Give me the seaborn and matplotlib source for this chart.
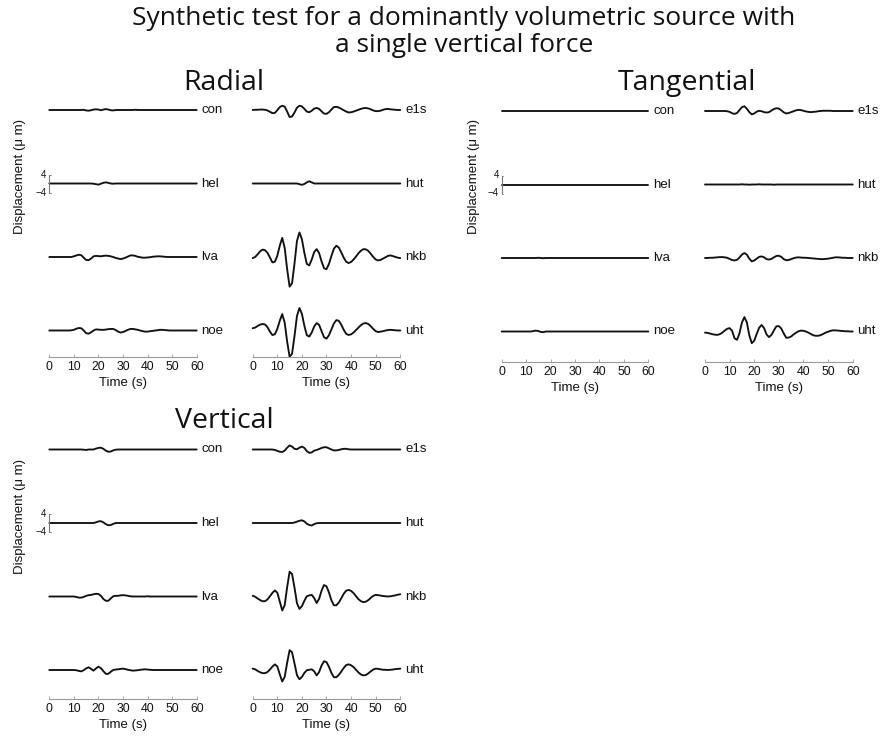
import matplotlib
matplotlib.use("Agg")
import matplotlib.pyplot as plt
import numpy as np
import pandas as pd
import seaborn as sns

# ---------------- data (displacement in micrometres, 1 s sampling) ----------------
time_s = list(range(0, 61))
stations_left = ["con", "hel", "lva", "noe"]
stations_right = ["e1s", "hut", "nkb", "uht"]
xticks = [0, 10, 20, 30, 40, 50, 60]
scale_ticks = [4, -4]

# Radial
rad_con = [0, 0, 0, 0, 0, 0, 0, 0, 0, 0, 0,
           0, 0, 0, 0.1, -0.2, -0.3, -0.1, 0.2, 0.3, 0.2,
           -0.1, 0.2, 0.4, 0.2, -0.1, -0.2, 0, 0, 0, 0,
           0, 0, 0, 0, 0.1, 0, 0, 0, 0, 0,
           0, 0, 0, 0, 0, 0, 0, 0, 0, 0,
           0, 0, 0, 0, 0, 0, 0, 0, 0, 0]
rad_hel = [0, 0, 0, 0, 0, 0, 0, 0, 0, 0, 0,
           0, 0, 0, 0, 0, 0, 0, -0.1, -0.3, -0.5,
           -0.1, 0.3, 0.5, 0.3, 0, -0.1, 0, 0, 0, 0,
           0, 0, 0, 0, 0, 0, 0, 0, 0, 0,
           0, 0, 0, 0, 0, 0, 0, 0, 0, 0,
           0, 0, 0, 0, 0, 0, 0, 0, 0, 0]
rad_lva = [0, 0, 0, 0, 0, 0, 0, 0, 0, 0, 0.3,
           0.7, 1.0, 0.8, -0.3, -1.3, -1.4, -0.7, 0.3, 0.5, 0.4,
           0.3, 0.5, 0.6, 0.5, 0.3, 0, -0.4, -0.7, -0.9, -0.7,
           -0.3, 0.2, 0.7, 0.7, 0.5, 0.1, -0.1, -0.3, -0.3, -0.2,
           -0.1, 0.1, 0.2, 0.3, 0.3, 0.2, 0.1, 0, 0, 0,
           0, 0, 0, 0, 0, 0, 0, 0, 0, 0]
rad_noe = [0, 0, 0, 0, 0, 0, 0, 0, 0, 0.1, 0.3,
           0.8, 1.1, 1.0, 0, -1.2, -1.4, -0.8, 0, 0.5, 0.4,
           0.3, 0.3, 0.4, 0.6, 0.7, 0.7, 0.2, -0.5, -0.9, -0.7,
           -0.2, 0.3, 0.7, 0.7, 0.5, 0.3, 0, -0.3, -0.5, -0.5,
           -0.3, -0.2, 0, 0.1, 0.3, 0.3, 0.2, 0.1, 0, 0,
           0, 0, 0, 0, 0, 0, 0, 0, 0, 0]
rad_e1s = [0, 0.1, 0.1, 0.2, 0.2, 0.1, -0.2, -0.8, -1.4, -1.3, -0.1,
           1.3, 1.9, 1.5, -0.7, -3.1, -2.9, -1.1, 1.0, 1.9, 1.6,
           0.5, -0.7, -1.0, -0.3, 0.6, 0.9, 0.5, -0.6, -1.6, -1.7,
           -1.0, 0.2, 1.3, 1.4, 1.1, 0.5, -0.1, -0.7, -1.1, -1.0,
           -0.7, -0.3, 0.1, 0.5, 0.8, 0.9, 0.7, 0.3, -0.2, -0.5,
           -0.5, -0.3, 0.1, 0.4, 0.5, 0.3, 0.2, 0.1, 0, 0]
rad_hut = [0, 0, 0, 0, 0, 0, 0, 0, 0, 0, 0,
           0, 0, 0, 0, 0, 0, 0, 0, -0.3, -0.6,
           -0.2, 0.5, 1.0, 0.5, 0, 0, 0, 0, 0, 0,
           0, 0, 0, 0, 0, 0, 0, 0, 0, 0,
           0, 0, 0, 0, 0, 0, 0, 0, 0, 0,
           0, 0, 0, 0, 0, 0, 0, 0, 0, 0]
rad_nkb = [-0.5, 0.0, 1.2, 2.5, 3.3, 3.0, 1.9, -0.2, -2.4, -2.1, 0.5,
           5.0, 8.5, 4.1, -5.4, -13.2, -11.6, -2.8, 7.2, 10.9, 7.9,
           1.9, -3.1, -3.7, -1.1, 2.2, 3.5, 1.7, -2.0, -5.0, -5.4,
           -3.1, 0.5, 3.7, 5.0, 4.2, 2.1, -0.3, -2.1, -2.7, -2.2,
           -1.1, 0.2, 1.7, 2.8, 3.5, 3.4, 2.7, 1.4, 0.0, -1.1,
           -1.5, -1.3, -0.7, -0.1, 0.5, 0.7, 0.4, 0.0, -0.3, -0.5]
rad_uht = [1.0, 1.3, 2.0, 2.6, 2.9, 2.7, 1.5, -0.5, -2.0, -1.7, 0.7,
           4.3, 7.3, 3.5, -4.9, -11.7, -10.3, -2.4, 6.5, 10.0, 7.4,
           2.1, -2.1, -2.7, -0.9, 1.8, 3.3, 2.5, -0.3, -3.0, -3.6,
           -2.1, 0.5, 3.1, 4.6, 4.3, 2.6, 0.3, -1.5, -2.0, -1.7,
           -0.9, 0.2, 1.3, 2.4, 3.1, 3.3, 2.9, 1.9, 0.7, -0.3,
           -0.7, -0.5, -0.3, 0.0, 0.2, 0.3, 0.2, 0.1, 0.0, 0.0]

# Tangential
tan_con = [0] * 61
tan_hel = [0] * 61
tan_lva = [0, 0, 0, 0, 0, 0, 0, 0, 0, 0, 0,
           0, 0, 0, 0, 0.1, 0, -0.1, 0, 0, 0,
           0, 0, 0, 0, 0, 0, 0, 0, 0, 0,
           0, 0, 0, 0, 0, 0, 0, 0, 0, 0,
           0, 0, 0, 0, 0, 0, 0, 0, 0, 0,
           0, 0, 0, 0, 0, 0, 0, 0, 0, 0]
tan_noe = [0, 0, 0, 0, 0, 0, 0, 0, 0, 0, 0,
           0, 0, 0.2, 0.4, 0.2, -0.2, -0.3, 0, 0, 0,
           0, 0, 0, 0, 0, 0, 0, 0, 0, 0,
           0, 0, 0, 0, 0, 0, 0, 0, 0, 0,
           0, 0, 0, 0, 0, 0, 0, 0, 0, 0,
           0, 0, 0, 0, 0, 0, 0, 0, 0, 0]
tan_e1s = [0, 0, 0, 0, 0, 0, 0, 0, 0, -0.1, -0.4,
           -1.0, -1.3, -0.9, 0.4, 1.7, 2.1, 1.0, -0.5, -1.5, -1.1,
           -0.3, 0.1, -0.1, -0.5, -0.7, -0.5, 0.2, 0.9, 1.2, 1.1,
           0.3, -0.6, -1.1, -0.9, -0.5, -0.1, 0.3, 0.5, 0.4, 0.1,
           -0.2, -0.4, -0.5, -0.4, -0.3, -0.1, 0, 0.1, 0.1, 0.1,
           0.1, 0, 0, 0, 0, 0, 0, 0, 0, 0]
tan_hut = [0, 0, 0, 0, 0, 0, 0, 0, 0, 0, 0,
           0, 0, 0, 0, 0.1, 0, 0, -0.1, 0, 0,
           0, 0.1, 0, 0, 0, 0, 0, -0.1, 0, 0,
           0, 0, 0, 0, 0, 0, 0, 0, 0, 0,
           0, 0, 0, 0, 0, 0, 0, 0, 0, 0,
           0, 0, 0, 0, 0, 0, 0, 0, 0, 0]
tan_nkb = [0, 0, 0.1, 0.1, 0.2, 0.3, 0.4, 0.4, 0.3, 0.1, -0.4,
           -0.9, -1.1, -0.8, 0.2, 1.5, 2.2, 1.5, -0.3, -1.5, -1.1,
           -0.3, 0.5, 0.7, 0.3, -0.5, -0.7, -0.4, 0.3, 0.9, 1.0,
           0.5, -0.5, -1.0, -0.9, -0.5, -0.1, 0.2, 0.3, 0.2, 0.1,
           0.1, 0, -0.1, -0.2, -0.3, -0.4, -0.5, -0.5, -0.4, -0.3,
           -0.1, 0.1, 0.3, 0.3, 0.2, 0.1, 0.1, 0, 0, 0]
tan_uht = [-0.5, -0.6, -0.9, -1.2, -1.4, -1.5, -1.2, -0.5, 0.4, 1.2, 1.5,
           0.3, -3.0, -3.7, -0.8, 4.0, 6.4, 4.1, -1.7, -5.2, -4.1,
           -1.1, 1.7, 2.9, 1.5, -1.3, -2.5, -1.5, 0.5, 2.3, 2.4,
           1.3, -0.9, -2.8, -2.7, -2.2, -1.3, -0.5, 0.1, 0.4, 0.3,
           0, -0.5, -1.1, -1.7, -1.9, -1.9, -1.6, -1.1, -0.5, -0.1,
           0.3, 0.5, 0.5, 0.4, 0.3, 0.2, 0.1, 0.1, 0, 0]

# Vertical
ver_con = [0, 0, 0, 0, 0, 0, 0, 0, 0, 0, 0,
           0, 0, 0, -0.1, -0.2, 0, 0, 0, 0.4, 0.7,
           0.8, 0.3, -0.5, -1.0, -0.9, -0.4, -0.1, 0, 0, 0,
           0, 0, 0, 0, 0, 0, 0, 0, 0, 0,
           0, 0, 0, 0, 0, 0, 0, 0, 0, 0,
           0, 0, 0, 0, 0, 0, 0, 0, 0, 0]
ver_hel = [0, 0, 0, 0, 0, 0, 0, 0, 0, 0, 0,
           0, 0, 0, 0, 0, 0, 0, 0, 0.3, 0.7,
           0.8, 0.3, -0.5, -1.0, -0.9, -0.4, 0, 0, 0, 0,
           0, 0, 0, 0, 0, 0, 0, 0, 0, 0,
           0, 0, 0, 0, 0, 0, 0, 0, 0, 0,
           0, 0, 0, 0, 0, 0, 0, 0, 0, 0]
ver_lva = [0, 0, 0, 0, 0, 0, 0, 0, 0, 0, 0,
           -0.2, -0.5, -0.5, -0.2, 0.3, 0.6, 0.7, 1.0, 1.2, 1.1,
           0.3, -1.1, -1.9, -1.9, -0.9, 0.1, 0.3, 0.3, 0.5, 0.6,
           0.5, 0.3, 0.1, 0, 0, 0, 0, 0, 0, 0.1,
           0, 0, 0, 0, 0, 0, 0, 0, 0, 0,
           0, 0, 0, 0, 0, 0, 0, 0, 0, 0]
ver_noe = [0, 0, 0, 0, 0, 0, 0, 0, 0, 0, 0,
           -0.1, -0.4, -0.6, -0.1, 0.7, 1.2, 0.5, -0.3, 0.7, 1.5,
           0.8, -0.5, -1.7, -1.7, -0.8, 0, 0.2, 0.3, 0.5, 0.6,
           0.4, 0.1, -0.1, -0.3, -0.2, -0.1, 0.1, 0.2, 0.3, 0.2,
           0.1, 0, 0, 0, 0, 0, 0, 0, 0, 0,
           0, 0, 0, 0, 0, 0, 0, 0, 0, 0]
ver_e1s = [0, 0, 0, 0, 0, 0, 0, 0, 0, -0.2, -0.6,
           -1.0, -1.1, -0.5, 0.8, 1.8, 1.3, 0.3, 0.1, 0.8, 1.3,
           0.7, -0.7, -1.5, -1.3, -0.5, -0.2, 0.2, 0.7, 1.0, 1.0,
           0.5, 0, -0.4, -0.4, -0.2, 0.1, 0.3, 0.3, 0.1, 0,
           0, 0, 0, 0, 0, 0, 0, 0, 0, 0,
           0, 0, 0, 0, 0, 0, 0, 0, 0, 0]
ver_hut = [0, 0, 0, 0, 0, 0, 0, 0, 0, 0, 0,
           0, 0, 0, 0, 0, 0, 0.2, 0.6, 1.0, 1.2,
           0.7, -0.3, -0.9, -1.1, -0.5, -0.1, 0, 0, 0, 0,
           0, 0, 0, 0, 0, 0, 0, 0, 0, 0,
           0, 0, 0, 0, 0, 0, 0, 0, 0, 0,
           0, 0, 0, 0, 0, 0, 0, 0, 0, 0]
ver_nkb = [0.3, -0.1, -0.9, -1.6, -2.1, -2.1, -1.3, 0.1, 1.6, 2.7, 1.7,
           -2.2, -6.2, -3.9, 4.1, 11.0, 10.0, 3.9, -3.0, -5.5, -4.3,
           -1.9, 0.1, 0.5, 0.7, -0.7, -2.9, -1.0, 2.6, 5.1, 4.5,
           1.8, -1.7, -3.9, -3.9, -2.7, -0.8, 1.2, 2.6, 2.9, 2.5,
           1.5, 0.1, -1.2, -2.1, -2.5, -2.3, -1.6, -0.6, 0.3, 0.7,
           0.6, 0.4, 0.2, 0.1, 0, 0.1, 0.3, 0.5, 0.8, 1.0]
ver_uht = [0.6, 0.3, -0.4, -1.0, -1.4, -1.4, -0.9, 0.2, 1.5, 2.5, 1.6,
           -1.9, -5.1, -3.1, 3.2, 8.8, 7.9, 2.9, -2.3, -4.1, -3.1,
           -1.3, -0.1, 0.1, 0.3, -0.6, -2.4, -0.9, 2.0, 3.9, 3.5,
           1.4, -1.3, -3.2, -3.2, -2.2, -0.7, 0.9, 2.2, 2.5, 2.1,
           1.3, 0.1, -1.1, -2.0, -2.4, -2.2, -1.5, -0.6, 0.2, 0.6,
           0.5, 0.3, 0.1, 0.1, 0, 0.1, 0.2, 0.4, 0.5, 0.6]

# ---------------- layout ----------------
sns.set_theme(style="white")
plt.rcParams["font.family"] = ["Liberation Sans", "DejaVu Sans"]
W, H = 886, 740
fig = plt.figure(figsize=(W / 100, H / 100), dpi=100)
PXU = 2.25      # pixels per micrometre
SPACING = 73.5  # pixels between trace baselines
TITLE_FONT = ["Open Sans", "DejaVu Sans"]
INK = "#111111"


def add_column(x0, x1, y_first, y_axis, names, traces, scale_bar=False):
    top_px = y_first - 28
    ax = fig.add_axes([x0 / W, 1 - y_axis / H, (x1 - x0) / W, (y_axis - top_px) / H])
    rows = []
    offsets = []
    for i, (name, tr) in enumerate(zip(names, traces)):
        off = -i * SPACING / PXU
        offsets.append(off)
        for t, v in zip(time_s, tr):
            rows.append((name, t, v + off))
    df = pd.DataFrame(rows, columns=["station", "t", "y"])
    sns.lineplot(data=df, x="t", y="y", units="station", estimator=None,
                 color=INK, lw=1.35, ax=ax, legend=False, sort=False)
    for line in ax.get_lines():
        line.set_clip_on(False)
        line.set_solid_joinstyle("round")
    ax.set_xlim(0, 60)
    ax.set_ylim(-(y_axis - y_first) / PXU, 28 / PXU)
    for name, off in zip(names, offsets):
        ax.annotate(name, xy=(60, off), xytext=(3.5, 0), textcoords="offset points",
                    ha="left", va="center", fontsize=9.5, color=INK)
    for s in ["left", "top", "right"]:
        ax.spines[s].set_visible(False)
    ax.spines["bottom"].set_color("#9a9a9a")
    ax.spines["bottom"].set_linewidth(0.8)
    ax.set_xticks(xticks)
    ax.set_xticklabels([str(v) for v in xticks])
    ax.tick_params(axis="x", length=2, width=0.6, color="#9a9a9a", labelsize=8.8,
                   pad=3, labelcolor=INK, bottom=True, direction="in")
    ax.set_yticks([])
    ax.set_ylabel("")
    ax.set_xlabel("Time (s)", fontsize=9.5, labelpad=3, color=INK)
    ax.patch.set_alpha(0)
    if scale_bar:
        off = offsets[1]
        ax.plot([0, 0], [off + scale_ticks[1], off + scale_ticks[0]], color="#777777",
                lw=0.8, clip_on=False)
        for v in scale_ticks:
            ax.plot([0, 0.6], [off + v, off + v], color="#777777", lw=0.6, clip_on=False)
            ax.annotate(str(v).replace("-", "\u2212"), xy=(0, off + v), xytext=(-2, 0),
                        textcoords="offset points", ha="right", va="center",
                        fontsize=7, color=INK)
    return ax


# Radial
add_column(49.3, 196.7, 110, 357, stations_left, [rad_con, rad_hel, rad_lva, rad_noe], True)
add_column(252.7, 400.3, 110, 357, stations_right, [rad_e1s, rad_hut, rad_nkb, rad_uht])
# Tangential
add_column(501.7, 648.3, 111, 362, stations_left, [tan_con, tan_hel, tan_lva, tan_noe], True)
add_column(705, 852.7, 111, 362, stations_right, [tan_e1s, tan_hut, tan_nkb, tan_uht])
# Vertical
add_column(49.3, 196.7, 449.5, 699, stations_left, [ver_con, ver_hel, ver_lva, ver_noe], True)
add_column(252.7, 400.3, 449.5, 699, stations_right, [ver_e1s, ver_hut, ver_nkb, ver_uht])

# y labels
for (x, y) in [(20, 176), (474, 176), (20, 516)]:
    fig.text(x / W, 1 - y / H, "Displacement (\u03bc m)", rotation=90, ha="center",
             va="center", fontsize=9.5, color=INK)

# panel titles
for (x, y, s) in [(224, 83, "Radial"), (687, 83, "Tangential"), (224.5, 421, "Vertical")]:
    fig.text(x / W, 1 - y / H, s, ha="center", va="center", fontsize=20.5,
             family=TITLE_FONT, color=INK)

# figure title (one text, two centred lines)
fig.text(464 / W, 1 - 6 / H,
         "Synthetic test for a dominantly volumetric source with\na single vertical force",
         ha="center", va="top", multialignment="center", fontsize=19,
         linespacing=1.08, family=TITLE_FONT, color=INK)

fig.savefig("out.png", dpi=100, facecolor="white")
